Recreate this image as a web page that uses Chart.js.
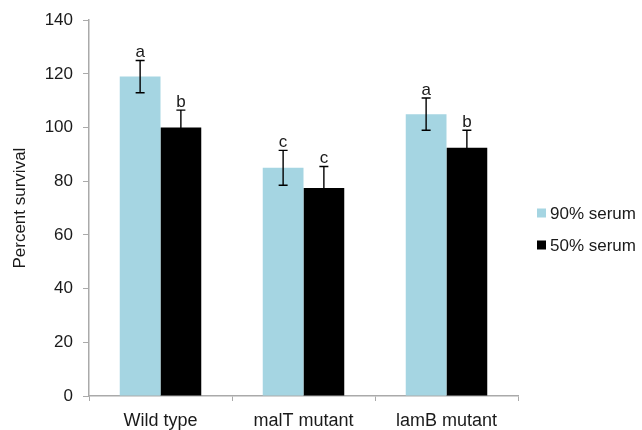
<!DOCTYPE html>
<html>
<head>
<meta charset="utf-8">
<script src="https://cdn.jsdelivr.net/npm/chart.js@4"></script>
<style>
  html, body { margin: 0; padding: 0; background: #fff; }
  #wrap { width: 642px; height: 430px; }
</style>
</head>
<body>
<div id="wrap"><canvas id="chart"></canvas></div>
<script>
const categories = ['Wild type', 'malT mutant', 'lamB mutant'];
const serum90 = [119, 85, 105];
const serum50 = [100, 77.5, 92.5];
const err90 = [6, 6.5, 6];
const err50 = [6.5, 8, 6.5];
const letters90 = ['a', 'c', 'a'];
const letters50 = ['b', 'c', 'b'];
const yTicks = [0, 20, 40, 60, 80, 100, 120, 140];

const FONT = '"Liberation Sans", Arial, sans-serif';
const INK = '#1a1a1a';

// Error bars + significance letters, positioned through the scales.
const errorBars = {
  id: 'errorBars',
  afterDatasetsDraw(chart) {
    const ctx = chart.ctx;
    const y = chart.scales.y;
    const errs = [err90, err50];
    const lets = [letters90, letters50];
    chart.data.datasets.forEach((ds, di) => {
      chart.getDatasetMeta(di).data.forEach((bar, i) => {
        const v = ds.data[i];
        const top = y.getPixelForValue(v + errs[di][i]);
        const bot = y.getPixelForValue(v - errs[di][i]);
        ctx.save();
        ctx.strokeStyle = '#000';
        ctx.lineWidth = 1.4;
        ctx.beginPath();
        ctx.moveTo(bar.x, top); ctx.lineTo(bar.x, bot);
        ctx.moveTo(bar.x - 4.5, top); ctx.lineTo(bar.x + 4.5, top);
        ctx.moveTo(bar.x - 4.5, bot); ctx.lineTo(bar.x + 4.5, bot);
        ctx.stroke();
        ctx.fillStyle = INK;
        ctx.font = '17px ' + FONT;
        ctx.textAlign = 'center';
        ctx.textBaseline = 'alphabetic';
        ctx.fillText(lets[di][i], bar.x, top - 3);
        ctx.restore();
      });
    });
  }
};

// Legend on the right, built from the datasets.
const sideLegend = {
  id: 'sideLegend',
  afterDraw(chart) {
    const ctx = chart.ctx;
    const x = chart.chartArea.right + 19;
    ctx.save();
    ctx.font = '17px ' + FONT;
    ctx.textBaseline = 'middle';
    chart.data.datasets.forEach((ds, i) => {
      const cy = 213 + i * 32;
      ctx.fillStyle = ds.backgroundColor;
      ctx.fillRect(x, cy - 4.5, 9, 9);
      ctx.fillStyle = INK;
      ctx.fillText(ds.label, x + 13, cy + 1);
    });
    ctx.restore();
  }
};

new Chart(document.getElementById('chart'), {
  type: 'bar',
  data: {
    labels: categories,
    datasets: [
      { label: '90% serum', data: serum90, backgroundColor: '#a5d5e2' },
      { label: '50% serum', data: serum50, backgroundColor: '#000000' },
    ],
  },
  options: {
    responsive: true,
    maintainAspectRatio: false,
    animation: false,
    layout: { padding: { top: 20, right: 124, left: 0, bottom: 0 } },
    datasets: { bar: { categoryPercentage: 0.57, barPercentage: 1.0 } },
    plugins: { legend: { display: false }, tooltip: { enabled: false } },
    scales: {
      x: {
        grid: { drawOnChartArea: false, drawTicks: true, tickLength: 5, color: '#aaa', offset: true },
        border: { color: '#aaa', width: 1.5 },
        ticks: { color: INK, font: { family: FONT, size: 18 }, padding: 9 },
        afterFit(scale) { scale.height = 34; },
      },
      y: {
        min: 0,
        max: 140,
        afterBuildTicks(scale) { scale.ticks = yTicks.map((v) => ({ value: v })); },
        grid: { drawOnChartArea: false, drawTicks: true, tickLength: 6, color: '#aaa' },
        border: { color: '#aaa', width: 1.5 },
        ticks: { color: INK, font: { family: FONT, size: 17 }, padding: 10 },
        title: { display: true, text: 'Percent survival', color: INK, font: { family: FONT, size: 17 }, padding: { top: 10, bottom: 0 } },
        afterFit(scale) { scale.width = 89; },
      },
    },
  },
  plugins: [errorBars, sideLegend],
});
</script>
</body>
</html>
